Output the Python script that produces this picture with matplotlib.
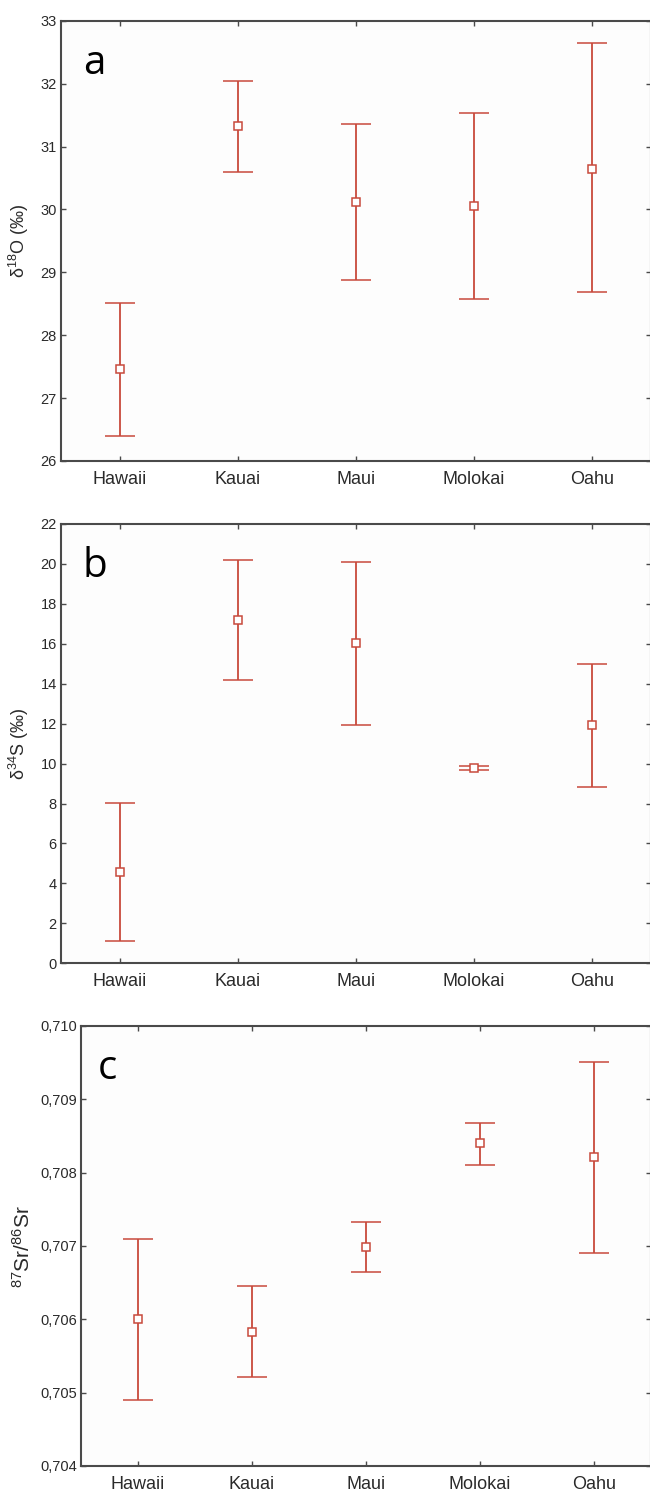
import matplotlib
matplotlib.use('Agg')
import matplotlib.pyplot as plt
from matplotlib.ticker import FuncFormatter, FixedLocator

plt.rcParams['font.family'] = ['Liberation Sans', 'DejaVu Sans']
plt.rcParams['mathtext.fontset'] = 'custom'
plt.rcParams['mathtext.rm'] = 'Liberation Sans'
plt.rcParams['mathtext.it'] = 'Liberation Sans:italic'

islands = ['Hawaii', 'Kauai', 'Maui', 'Molokai', 'Oahu']

o18_mean = [27.46, 31.32, 30.11, 30.06, 30.65]
o18_low = [26.39, 30.59, 28.87, 28.58, 28.68]
o18_high = [28.51, 32.04, 31.35, 31.54, 32.64]

s34_mean = [4.59, 17.19, 16.03, 9.78, 11.92]
s34_low = [1.14, 14.17, 11.92, 9.68, 8.81]
s34_high = [8.01, 20.20, 20.10, 9.88, 14.99]

sr_mean = [0.70600, 0.70583, 0.70699, 0.70840, 0.70822]
sr_low = [0.70490, 0.70521, 0.70665, 0.70811, 0.70691]
sr_high = [0.70709, 0.70645, 0.70733, 0.70868, 0.70951]

RED = '#c84a3c'
SPINE = '#4a4a4a'
TXT = '#2a2a2a'

fig = plt.figure(figsize=(6.5, 14.93), dpi=100)
fig.patch.set_facecolor('white')

W, H = 650.0, 1493.0


def make_ax(left, top, right, bottom):
    return fig.add_axes([left / W, 1 - bottom / H, (right - left) / W, (bottom - top) / H])


def draw(ax, mean, low, high, ylim, yticks, fmt, ylabel, letter, ylabel_size, ylabel_x):
    x = list(range(len(islands)))
    yerr = [[m - l for m, l in zip(mean, low)], [h - m for m, h in zip(mean, high)]]
    ax.errorbar(x, mean, yerr=yerr, fmt='s', color=RED, ecolor=RED, elinewidth=1.3,
                capsize=10.5, capthick=1.3, markersize=6, markerfacecolor='white',
                markeredgecolor=RED, markeredgewidth=1.1, zorder=3)
    ax.set_xlim(-0.5, len(islands) - 0.5)
    ax.set_ylim(*ylim)
    ax.set_facecolor('#fdfdfd')
    ax.set_xticks(x)
    ax.set_xticklabels(islands, fontsize=13, color=TXT)
    ax.yaxis.set_major_locator(FixedLocator(yticks))
    ax.yaxis.set_major_formatter(FuncFormatter(fmt))
    ax.tick_params(axis='both', direction='in', length=3.5, width=1.0, color=SPINE,
                   top=True, right=True, labelcolor=TXT)
    ax.tick_params(axis='y', labelsize=10.5, pad=3)
    ax.tick_params(axis='x', pad=7)
    for s in ax.spines.values():
        s.set_color(SPINE)
        s.set_linewidth(1.5)
    ax.set_ylabel(ylabel, fontsize=ylabel_size, color=TXT)
    ax.yaxis.set_label_coords(ylabel_x, 0.5)
    ax.text(0.037, 0.88, letter, transform=ax.transAxes, fontsize=29,
            family=['Open Sans', 'DejaVu Sans'], color='black', ha='left', va='baseline')


ax_a = make_ax(61, 20.7, 651, 461)
draw(ax_a, o18_mean, o18_low, o18_high, (26, 33), [26, 27, 28, 29, 30, 31, 32, 33],
     lambda v, p: f'{v:.0f}', r'$\mathregular{\delta^{18}O}$ (‰)', 'a', 13, -0.05)

ax_b = make_ax(61, 524, 651, 963.3)
draw(ax_b, s34_mean, s34_low, s34_high, (0, 22), list(range(0, 23, 2)),
     lambda v, p: f'{v:.0f}', r'$\mathregular{\delta^{34}S}$ (‰)', 'b', 13, -0.05)

ax_c = make_ax(81, 1026, 651, 1466)
draw(ax_c, sr_mean, sr_low, sr_high, (0.704, 0.710),
     [0.704, 0.705, 0.706, 0.707, 0.708, 0.709, 0.710],
     lambda v, p: f'{v:.3f}'.replace('.', ','), r'$\mathregular{^{87}Sr/^{86}Sr}$', 'c', 15, -0.083)
ax_c.texts[0].set_position((0.03, 0.88))

fig.savefig('out.png', dpi=100, facecolor='white')
